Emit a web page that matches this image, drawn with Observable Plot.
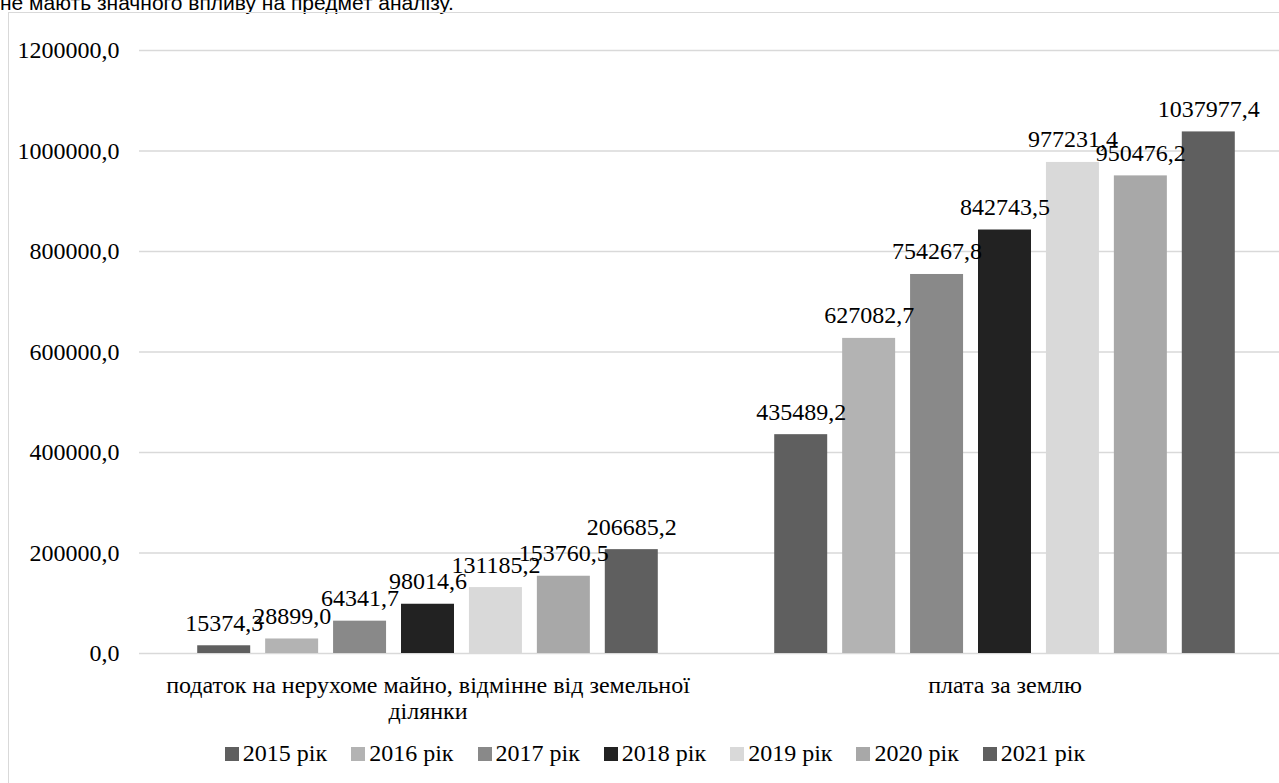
<!DOCTYPE html>
<html>
<head>
<meta charset="utf-8">
<script src="https://cdn.jsdelivr.net/npm/d3@7"></script>
<script src="https://cdn.jsdelivr.net/npm/@observablehq/plot@0.6"></script>
<style>
  html, body { margin: 0; padding: 0; background: #fff; overflow: hidden; }
  #wrap { position: relative; width: 1279px; height: 783px; overflow: hidden; }
  #toptext { position: absolute; left: 0; top: -8px; font-family: "Liberation Sans", Arial, sans-serif; font-size: 21px; line-height: 21px; color: #000; white-space: nowrap; }
  #box { position: absolute; left: 8px; top: 12px; width: 1500px; height: 900px; border: 1.5px solid #d9d9d9; box-sizing: border-box; }
  #chart { position: absolute; left: 0; top: 0; width: 1300px; }
  #chart svg { max-width: none !important; }
  #legend { position: absolute; left: 0; top: 737px; width: 1334px; }
  #legend svg { margin-right: 4px !important; }
</style>
</head>
<body>
<div id="wrap">
  <div id="toptext">не мають значного впливу на предмет аналізу.</div>
  <div id="box"></div>
  <div id="chart"></div>
  <div id="legend"></div>
</div>
<script>
const categories = ["податок на нерухоме майно, відмінне від земельної ділянки", "плата за землю"];
const years = ["2015 рік", "2016 рік", "2017 рік", "2018 рік", "2019 рік", "2020 рік", "2021 рік"];
const propertyTax = [15374.3, 28899.0, 64341.7, 98014.6, 131185.2, 153760.5, 206685.2];
const landFee = [435489.2, 627082.7, 754267.8, 842743.5, 977231.4, 950476.2, 1037977.4];
const yTicks = [0, 200000, 400000, 600000, 800000, 1000000, 1200000];
const colors = ["#5f5f5f", "#b3b3b3", "#898989", "#222222", "#d9d9d9", "#a8a8a8", "#5f5f5f"];

const series = [propertyTax, landFee];
const data = [];
categories.forEach((c, i) => years.forEach((y, j) => data.push({category: c, year: y, value: series[i][j]})));

const fmt = v => d3.format(".1f")(v).replace(".", ",");
const serif = "'Liberation Serif', 'Times New Roman', 'DejaVu Serif', serif";

const plot = Plot.plot({
  width: 1300,
  height: 783,
  marginLeft: 138,
  marginRight: 7,
  marginTop: 50,
  marginBottom: 130,
  style: {fontFamily: serif, fontSize: "24px", color: "#000", background: "transparent", overflow: "visible", maxWidth: "none"},
  fx: {domain: categories, padding: 0},
  x: {domain: years, paddingInner: 0.22, paddingOuter: 0.857, round: false, axis: null},
  y: {domain: [0, 1200000]},
  color: {domain: years, range: colors},
  marks: [
    Plot.gridY(yTicks, {stroke: "#d9d9d9", strokeOpacity: 1, strokeWidth: 1.3}),
    Plot.barY(data, {fx: "category", x: "year", y: "value", fill: "year"}),
    Plot.text(data, {fx: "category", x: "year", y: "value", text: d => fmt(d.value), lineAnchor: "bottom", dy: -15, fontSize: 24, fill: "#000"}),
    Plot.axisY(yTicks, {tickSize: 0, tickPadding: 20, tickFormat: fmt, fontSize: 24, label: null, fill: "#000"}),
    Plot.axisFx({anchor: "bottom", tickSize: 0, tickPadding: 20, fontSize: 24, lineHeight: 1.12, label: null, fill: "#000",
      tickFormat: d => d.replace("земельної ", "земельної\n")})
  ]
});
plot.style.maxWidth = "none";
document.getElementById("chart").appendChild(plot);

const legend = plot.legend("color", {swatchSize: 14});
legend.style.fontFamily = serif;
legend.style.fontSize = "24px";
legend.style.color = "#000";
legend.style.justifyContent = "center";
legend.style.marginBottom = "0";
document.getElementById("legend").appendChild(legend);
</script>
</body>
</html>
